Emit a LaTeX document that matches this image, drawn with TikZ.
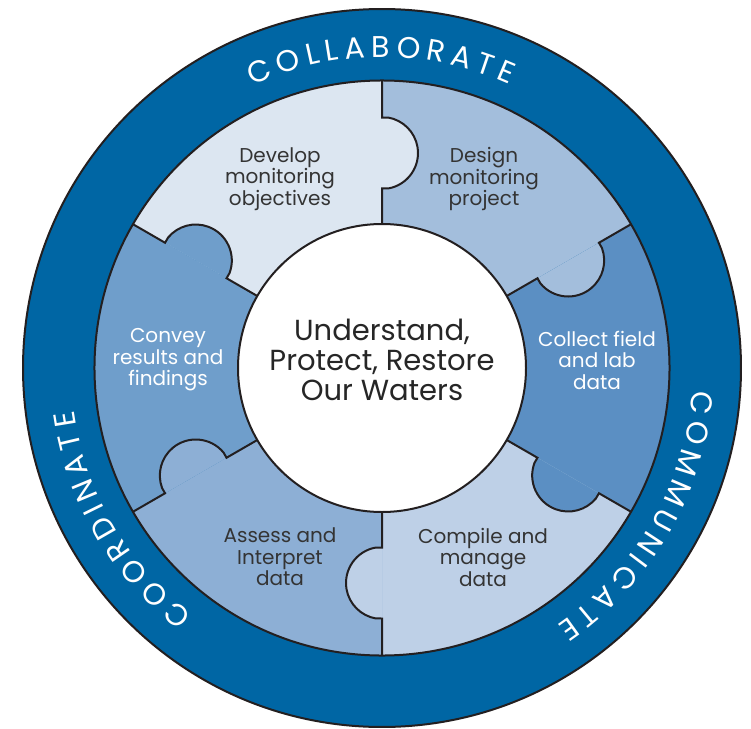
\documentclass[tikz,border=0pt]{standalone}
\usepackage{fontspec}
\setmainfont{Poppins}
\usetikzlibrary{decorations.text}

\definecolor{ringblue}{RGB}{0,102,164}
\definecolor{developfill}{RGB}{220,230,241}
\definecolor{designfill}{RGB}{163,190,220}
\definecolor{collectfill}{RGB}{91,143,195}
\definecolor{compilefill}{RGB}{190,208,231}
\definecolor{assessfill}{RGB}{141,175,213}
\definecolor{conveyfill}{RGB}{111,158,203}
\definecolor{textgray}{RGB}{52,52,52}
\definecolor{linegray}{RGB}{35,31,32}

\tikzset{
  edgeline/.style={draw=linegray, line width=2pt},
  piecetext/.style={align=center, text=textgray, font=\fontsize{20}{21.5}\selectfont},
  ringtext/.style={decorate, decoration={text along path, text align=fit to path, text color=white}},
}

\begin{document}
\begin{tikzpicture}
	\useasboundingbox (-13.426,-12.653) rectangle (12.969,12.934);
	% outer ring
	\fill[ringblue] (0,0) circle[radius=12.617];
	\draw[edgeline] (0,0) circle[radius=12.617];
	\begin{scope}[x=1pt,y=1pt]
	% pieces
	\foreach \a/\col in {90/developfill,30/designfill,-30/collectfill,-90/compilefill,-150/assessfill,150/conveyfill}
		\fill[\col] (\a:144) -- (\a:287.5) arc[start angle=\a, end angle=\a+60, radius=287.5] -- ({\a+60}:144) arc[start angle=\a+60, end angle=\a, radius=144] -- cycle;
	% knobs
	\foreach \a/\col in {90/developfill,30/designfill,-30/collectfill,-90/compilefill,-150/assessfill,150/conveyfill}
		\fill[\col, rotate=\a] (179.5,0) -- (179.5,-6) arc[start angle=189.6, end angle=350.4, radius=36] -- (250.5,0) -- cycle;
	\end{scope}
	% joints
	\draw[edgeline] (90:5.061) -- (90:6.309) -- (88.085:6.3125) arc[start angle=279.6, end angle=440.4, radius=1.265] -- (90:8.804) -- (90:10.105);
	\draw[edgeline] (30:5.061) -- (30:6.309) -- (28.085:6.3125) arc[start angle=219.6, end angle=380.4, radius=1.265] -- (30:8.804) -- (30:10.105);
	\draw[edgeline] (-30:5.061) -- (-30:6.309) -- (-31.915:6.3125) arc[start angle=159.6, end angle=320.4, radius=1.265] -- (-30:8.804) -- (-30:10.105);
	\draw[edgeline] (-90:5.061) -- (-90:6.309) -- (-91.915:6.3125) arc[start angle=99.6, end angle=260.4, radius=1.265] -- (-90:8.804) -- (-90:10.105);
	\draw[edgeline] (-150:5.061) -- (-150:6.309) -- (-151.915:6.3125) arc[start angle=39.6, end angle=200.4, radius=1.265] -- (-150:8.804) -- (-150:10.105);
	\draw[edgeline] (150:5.061) -- (150:6.309) -- (148.085:6.3125) arc[start angle=339.6, end angle=500.4, radius=1.265] -- (150:8.804) -- (150:10.105);
	\draw[edgeline] (0,0) circle[radius=10.105];
	\filldraw[fill=white, edgeline] (0,0) circle[radius=5.061];

	% texts
	\begin{scope}[x=1pt,y=1pt]
	\node[align=center, text=black!85, font=\fontsize{29}{30}\selectfont] (waters) at (0,8) {Understand,\\Protect, Restore\\Our Waters};
	\node[piecetext] (develop) at (-102,189) {Develop\\monitoring\\objectives};
	\node[piecetext] (design) at (102,189) {Design\\monitoring\\project};
	\node[piecetext, text=white] (collect) at (215,8) {Collect field\\and lab\\data};
	\node[piecetext] (compile) at (101,-189) {Compile and\\manage\\data};
	\node[piecetext] (assess) at (-102,-189) {Assess and\\Interpret\\data};
	\node[piecetext, text=white] (convey) at (-214,8) {Convey\\results and\\findings};

	% ring words
	\path[ringtext, decoration={text={|\fontsize{30}{30}\selectfont|COLLABORATE}}] (114.6:311) arc[start angle=114.6, end angle=65.7, radius=311];
	\path[ringtext, decoration={text={|\fontsize{30}{30}\selectfont|COMMUNICATE}}] (-4.1:311) arc[start angle=-4.1, end angle=-55.7, radius=311];
	\path[ringtext, decoration={text={|\fontsize{30}{30}\selectfont|COORDINATE}}] (232.4:311) arc[start angle=232.4, end angle=187.9, radius=311];
	\end{scope}
\end{tikzpicture}
\end{document}
